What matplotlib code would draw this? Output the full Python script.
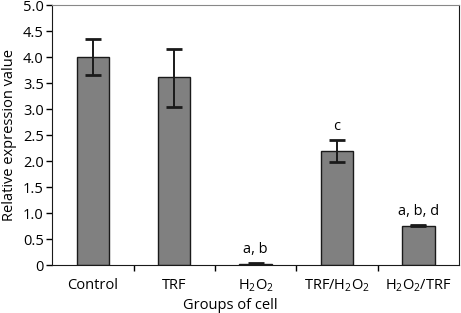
import matplotlib
matplotlib.use("Agg")
from matplotlib import pyplot as plt
from matplotlib.ticker import FixedLocator

plt.rcParams['font.family'] = ['Open Sans', 'DejaVu Sans']
plt.rcParams['mathtext.default'] = 'regular'

groups = ["Control", "TRF", r"H$_2$O$_2$", r"TRF/H$_2$O$_2$", r"H$_2$O$_2$/TRF"]
values = [4.0, 3.61, 0.02, 2.2, 0.76]
err_low = [0.35, 0.57, 0.015, 0.21, 0.0]
err_high = [0.34, 0.55, 0.015, 0.2, 0.015]
marks = ["", "", "a, b", "c", "a, b, d"]
yticks = [0, 0.5, 1.0, 1.5, 2.0, 2.5, 3.0, 3.5, 4.0, 4.5, 5.0]
ylabels = ["0", "0.5", "1.0", "1.5", "2.0", "2.5", "3.0", "3.5", "4.0", "4.5", "5.0"]

fig = plt.figure(figsize=(4.61, 3.13), dpi=100)
ax = fig.add_axes([0.113, 0.153, 0.883, 0.831])

x = list(range(len(groups)))
ax.bar(x, values, width=0.4, color="#808080", edgecolor="#1a1a1a", linewidth=1.0, zorder=2)
ax.errorbar(x, values, yerr=[err_low, err_high], fmt="none", ecolor="#1a1a1a",
            elinewidth=1.4, capsize=6, capthick=2, zorder=3)

for xi, v, eh, m in zip(x, values, err_high, marks):
    if m:
        ax.text(xi, v + eh + 0.12, m, ha="center", va="bottom", fontsize=10.5)

ax.set_xlim(-0.5, 4.5)
ax.set_ylim(0, 5.0)
ax.set_yticks(yticks)
ax.set_yticklabels(ylabels, fontsize=10.5)
ax.set_xticks(x)
ax.set_xticklabels(groups, fontsize=10.5)
ax.tick_params(axis="x", which="major", length=0, pad=9)
ax.xaxis.set_minor_locator(FixedLocator([0.5, 1.5, 2.5, 3.5]))
ax.tick_params(axis="x", which="minor", length=4, direction="out", width=1)
ax.tick_params(axis="y", length=4, width=1, pad=2)

ax.spines["top"].set_color("#888888")
ax.spines["left"].set_color("#1a1a1a")
ax.spines["bottom"].set_color("#1a1a1a")
ax.spines["right"].set_color("#1a1a1a")

ax.set_ylabel("Relative expression value", fontsize=10.5, labelpad=4)
ax.set_xlabel("Groups of cell", fontsize=10.5, labelpad=1)
ax.xaxis.set_label_coords(0.437, -0.127)

fig.savefig("out.png", dpi=100)
